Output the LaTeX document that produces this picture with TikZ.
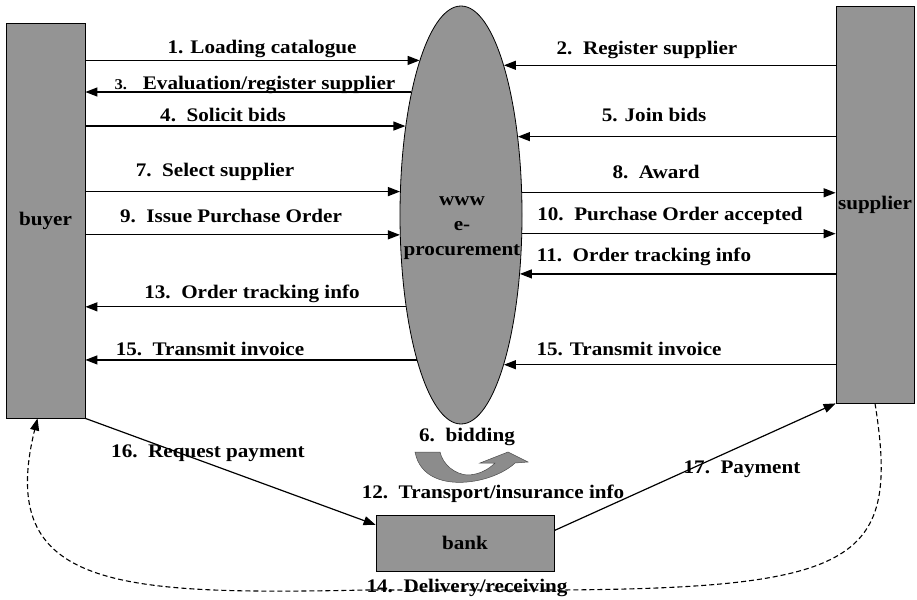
\documentclass[tikz,border=0pt]{standalone}
\usepackage{fontspec}
\setmainfont{Liberation Serif}[FakeStretch=1.1]
\usetikzlibrary{arrows.meta,calc,shapes.geometric}
\begin{document}
\begin{tikzpicture}[x=1pt,y=-1pt,
  every node/.style={font=\fontsize{19.2}{22}\selectfont\bfseries},
  box/.style={draw=black, line width=0.8pt, fill=black!42, inner sep=0pt},
  lab/.style={inner sep=0pt, anchor=center},
  arr/.style={line width=1.2pt, -{Triangle[length=12pt,width=9pt]}}]
\useasboundingbox (0,0) rectangle (917,599);
% main nodes
\node[box, minimum width=79pt, minimum height=395pt] (buyer) at (45.5,220.5) {buyer};
\node[box, minimum width=78pt, minimum height=397pt] (supplier) at (875,204.5) {supplier};
\node[box, minimum width=178pt, minimum height=56pt] (bank) at (465,543) {bank};
\node[box, ellipse, minimum width=122pt, minimum height=418pt] (ep) at (461,215) {};
\node[lab, align=center, font=\fontsize{19.2}{25}\selectfont\bfseries] (eptext) at (462,228) {www\\e-\\procurement};
% left arrows
\draw[arr] (buyer.east |- ep.105.4) -- (ep.105.4);
\draw[arr] (ep.112.6) -- (buyer.east |- ep.112.6);
\draw[arr] (buyer.east |- ep.122.1) -- (ep.122.1);
\draw[arr] (buyer.east |- ep.159.2) -- (ep.159.2);
\draw[arr] (buyer.east |- ep.198.2) -- (ep.198.2);
\draw[arr] (ep.239.2) -- (buyer.east |- ep.239.2);
\draw[arr] (ep.253.7) -- (buyer.east |- ep.253.7);
% right arrows
\draw[arr] (supplier.west |- ep.74.6) -- (ep.74.6);
\draw[arr] (supplier.west |- ep.54.4) -- (ep.54.4);
\draw[arr] (ep.20.8) -- (supplier.west |- ep.20.8);
\draw[arr] (ep.343.5) -- (supplier.west |- ep.343.5);
\draw[arr] (supplier.west |- ep.315.8) -- (ep.315.8);
\draw[arr] (supplier.west |- ep.286.3) -- (ep.286.3);
% bank arrows
\draw[arr] (buyer.south east) -- ($(bank.north west)!0.18!(bank.south west)$);
\draw[arr] ($(bank.north east)!0.28!(bank.south east)$) -- (supplier.south west);
% delivery dashed
\draw[dash pattern=on 5pt off 3pt, line width=1.1pt, -{Triangle[length=12pt,width=9pt]}]
  (supplier.south) .. controls (900,560) and (860,588) .. (560,590)
  -- (367,590) .. controls (120,595) and (-5,590) .. ($(buyer.south west)!0.4!(buyer.south east)$);
% bidding ribbon arrow
\filldraw[fill=black!45, draw=black!70, line width=0.5pt]
  (415,452) .. controls (420,478) and (445,484) .. (467,482)
  .. controls (490,480) and (508,470) .. (515,463)
  -- (528,462) -- (508,452) -- (480,463) -- (495,463)
  .. controls (488,470) and (478,475) .. (467,475)
  .. controls (455,474) and (443,465) .. (440,452) -- cycle;
% labels
\node[lab] (l1) at (262,49) {1. Loading catalogue};
\node[lab] (l3) at (255,85) {{\fontsize{15}{15}\selectfont 3.}~~~Evaluation/register supplier};
\node[lab] (l4) at (223,115) {4.~~Solicit bids};
\node[lab] (l7) at (215,172) {7.~~Select supplier};
\node[lab] (l9) at (231,216) {9.~~Issue Purchase Order};
\node[lab] (l13) at (252,294) {13.~~Order tracking info};
\node[lab] (l15a) at (210,349) {15.~~Transmit invoice};
\node[lab] (l2) at (647,50) {2.~~Register supplier};
\node[lab] (l5) at (654,115) {5. Join bids};
\node[lab] (l8) at (656,172) {8.~~Award};
\node[lab] (l10) at (670,216) {10.~~Purchase Order accepted};
\node[lab] (l11) at (644,257) {11.~~Order tracking info};
\node[lab] (l15b) at (629,349) {15. Transmit invoice};
\node[lab] (l16) at (208,453) {16.~~Request payment};
\node[lab] (l6) at (467,437) {6.~~bidding};
\node[lab] (l12) at (493,494) {12.~~Transport/insurance info};
\node[lab] (l17) at (742,469) {17.~~Payment};
\node[lab] (l14) at (467,588) {14.~~Delivery/receiving};
\end{tikzpicture}
\end{document}
